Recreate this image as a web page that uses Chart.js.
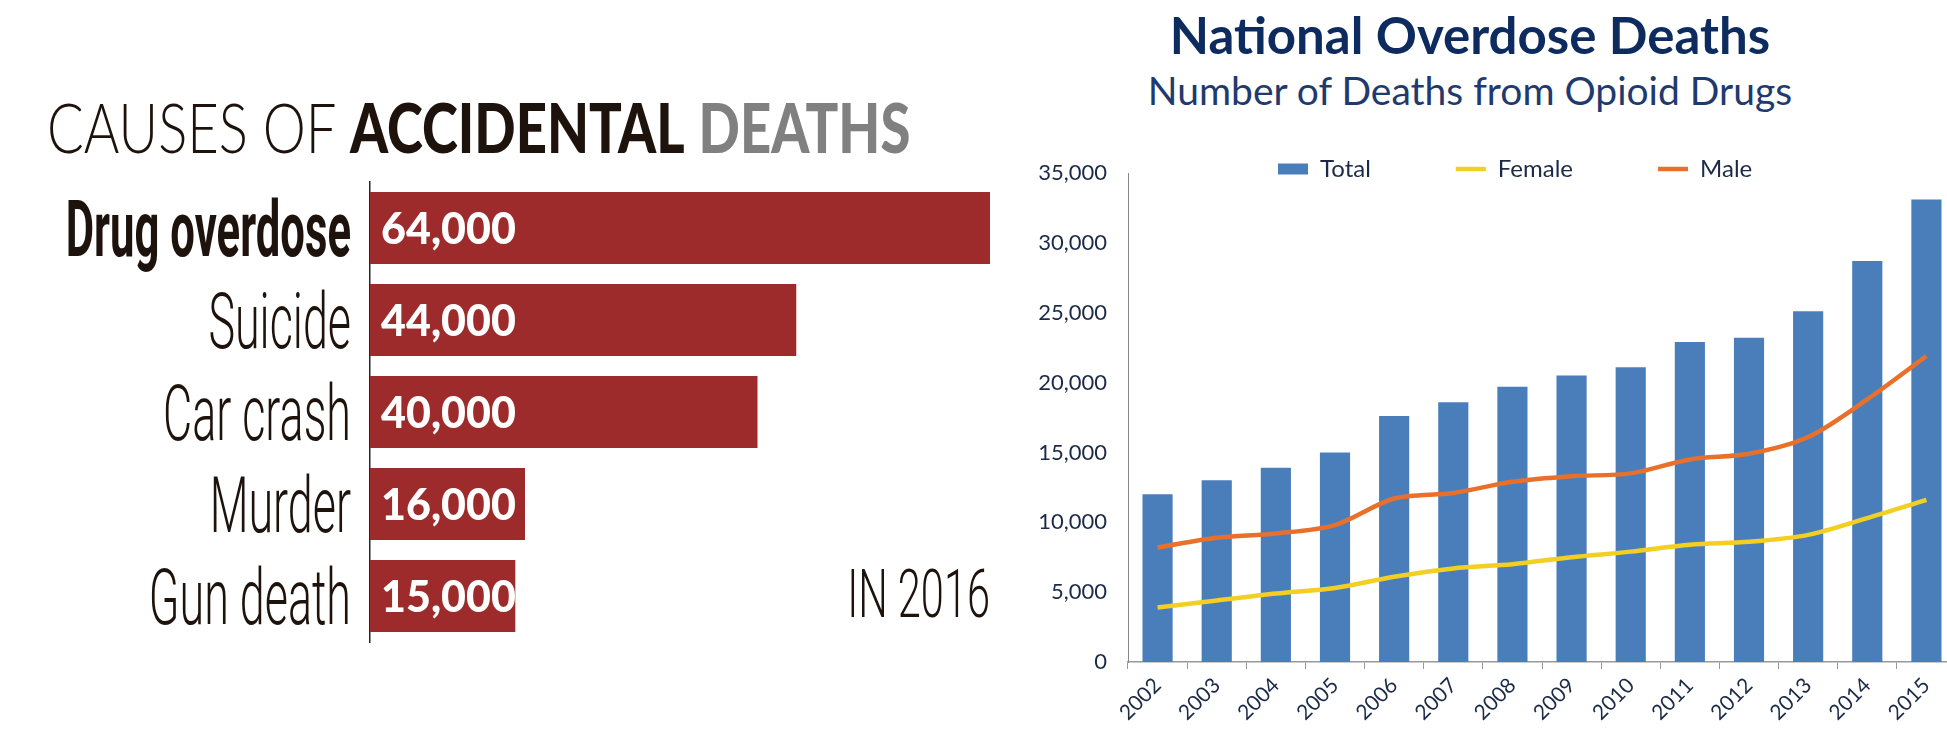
<!DOCTYPE html>
<html>
<head>
<meta charset="utf-8">
<script src="https://cdn.jsdelivr.net/npm/chart.js@4.4.1/dist/chart.umd.min.js"></script>
<style>
  body { margin: 0; width: 1947px; height: 732px; overflow: hidden; background: #fff; position: relative; }
  #leftBox { position: absolute; left: 0; top: 0; width: 1000px; height: 732px; }
  #rightBox { position: absolute; left: 1000px; top: 0; width: 1000px; height: 732px; }
  #leftTitle {
    position: absolute; left: 47px; top: 93px; font-family: Lato; font-size: 68px; line-height: 68px;
    white-space: nowrap; transform: scaleX(0.8); transform-origin: 0 0; color: #1d130c;
  }
  #leftTitle .light { font-weight: 300; }
  #leftTitle .heavy { font-weight: 900; }
  #leftTitle .grey { font-weight: 900; color: #808080; }
  #rightTitle, #rightSub {
    position: absolute; left: 1070px; width: 800px; text-align: center; font-family: Lato; white-space: nowrap;
  }
  #rightTitle { top: 9px; font-size: 51px; line-height: 51px; font-weight: bold; color: #0d2b5e; }
  #rightSub { top: 71px; font-size: 39px; line-height: 39px; color: #1f3a6e; }
</style>
</head>
<body>
<div id="leftTitle"><span class="light">CAUSES OF </span><span class="heavy">ACCIDENTAL</span> <span class="grey">DEATHS</span></div>
<div id="rightTitle">National Overdose Deaths</div>
<div id="rightSub">Number of Deaths from Opioid Drugs</div>
<div id="leftBox"><canvas id="causesChart" width="1000" height="732"></canvas></div>
<div id="rightBox"><canvas id="overdoseChart" width="1000" height="732"></canvas></div>
<script>
// left chart: causes of accidental deaths, 2016
const causes = ["Drug overdose", "Suicide", "Car crash", "Murder", "Gun death"];
const causeDeaths = [64000, 44000, 40000, 16000, 15000];
const yearNote = "IN 2016";

// right chart: opioid overdose deaths by year
const years = ["2002", "2003", "2004", "2005", "2006", "2007", "2008", "2009", "2010", "2011", "2012", "2013", "2014", "2015"];
const totalDeaths = [12000, 13000, 13900, 15000, 17600, 18600, 19700, 20500, 21100, 22900, 23200, 25100, 28700, 33100];
const femaleDeaths = [3900, 4400, 4900, 5300, 6100, 6700, 7000, 7500, 7900, 8400, 8600, 9100, 10300, 11600];
const maleDeaths = [8200, 8900, 9200, 9800, 11700, 12100, 12900, 13300, 13500, 14500, 14900, 16100, 18800, 21900];

const inkColor = "#1d130c";

// condensed labels next to and inside the red bars
const causeLabels = {
  id: "causeLabels",
  afterDraw(chart) {
    const { ctx, chartArea, scales: { y } } = chart;
    const bars = chart.getDatasetMeta(0).data;
    ctx.save();
    causes.forEach((name, i) => {
      const yy = y.getPixelForValue(i);
      const bold = i === 0;
      ctx.save();
      ctx.font = (bold ? "bold " : "300 ") + "78px Roboto";
      ctx.fillStyle = inkColor;
      ctx.textAlign = "right";
      ctx.textBaseline = "alphabetic";
      ctx.translate(chartArea.left - 19, yy + 28);
      ctx.scale(bold ? 0.56 : 0.575, 1);
      ctx.fillText(name, 0, 0);
      ctx.restore();

      ctx.font = "900 43px Lato";
      ctx.fillStyle = "#fff";
      ctx.textAlign = "left";
      ctx.fillText(causeDeaths[i].toLocaleString("en-US"), bars[i].base + 11, yy + 16);
    });
    // the year note, bottom right
    ctx.font = "300 67px Roboto";
    ctx.fillStyle = inkColor;
    ctx.textAlign = "right";
    ctx.translate(chartArea.right, 617);
    ctx.scale(0.62, 1);
    ctx.fillText(yearNote, 0, 0);
    ctx.restore();
  }
};

new Chart(document.getElementById("causesChart"), {
  type: "bar",
  data: {
    labels: causes,
    datasets: [{
      data: causeDeaths,
      backgroundColor: "#9d2b2b",
      barPercentage: 0.78,
      categoryPercentage: 1
    }]
  },
  options: {
    indexAxis: "y",
    responsive: false,
    animation: false,
    layout: { padding: { left: 370, right: 10, top: 182, bottom: 90 } },
    plugins: { legend: { display: false }, tooltip: { enabled: false } },
    scales: {
      x: { display: false, min: 0, max: 64000 },
      y: {
        ticks: { display: false },
        grid: { display: false, drawTicks: false },
        border: { display: true, color: "#2a2420", width: 1.5 },
        afterFit: s => { s.width = 0; }
      }
    }
  },
  plugins: [causeLabels]
});

// keep the legend in one row across the top of the plot, like the original
const legendRow = {
  id: "legendRow",
  beforeUpdate(chart) {
    if (chart.legend) chart.legend.isHorizontal = () => true;
  },
  afterLayout(chart) {
    const lg = chart.legend;
    lg.top = 72;
    lg.left = 193;
    lg.right = 1000;
  }
};

const axisText = "#1b2a47";

new Chart(document.getElementById("overdoseChart"), {
  data: {
    labels: years,
    datasets: [
      {
        type: "bar", label: "Total", data: totalDeaths, backgroundColor: "#4a7ebb",
        barPercentage: 0.51, categoryPercentage: 1, order: 2, pointStyle: "rect"
      },
      {
        type: "line", label: "Female", data: femaleDeaths, borderColor: "#f2cf21", backgroundColor: "#f2cf21",
        borderWidth: 4.5, tension: 0.3, pointRadius: 0, order: 1, pointStyle: "line"
      },
      {
        type: "line", label: "Male", data: maleDeaths, borderColor: "#e8702a", backgroundColor: "#e8702a",
        borderWidth: 4.5, tension: 0.3, pointRadius: 0, order: 1, pointStyle: "line"
      }
    ]
  },
  options: {
    responsive: false,
    animation: false,
    locale: "en-US",
    layout: { padding: { top: 173, right: 44, left: 0, bottom: 0 } },
    plugins: {
      tooltip: { enabled: false },
      legend: {
        position: "chartArea",
        align: "start",
        labels: {
          usePointStyle: true,
          pointStyleWidth: 30,
          boxHeight: 11,
          padding: 85,
          color: axisText,
          font: { family: "Lato", size: 24 },
          sort: (a, b) => a.datasetIndex - b.datasetIndex
        }
      }
    },
    scales: {
      x: {
        grid: { display: true, drawOnChartArea: false, tickLength: 7, color: "#999" },
        border: { color: "#999", width: 1.5 },
        ticks: { minRotation: 45, maxRotation: 45, padding: 4, color: axisText, font: { family: "Lato", size: 21 } },
        afterFit: s => { s.height = 70; }
      },
      y: {
        min: 0,
        max: 35000,
        ticks: { stepSize: 5000, padding: 21, color: axisText, font: { family: "Lato", size: 22 } },
        grid: { display: false, drawTicks: false },
        border: { display: true, color: "#888", width: 1 },
        afterFit: s => { s.width = 128; }
      }
    }
  },
  plugins: [legendRow]
});
</script>
</body>
</html>
